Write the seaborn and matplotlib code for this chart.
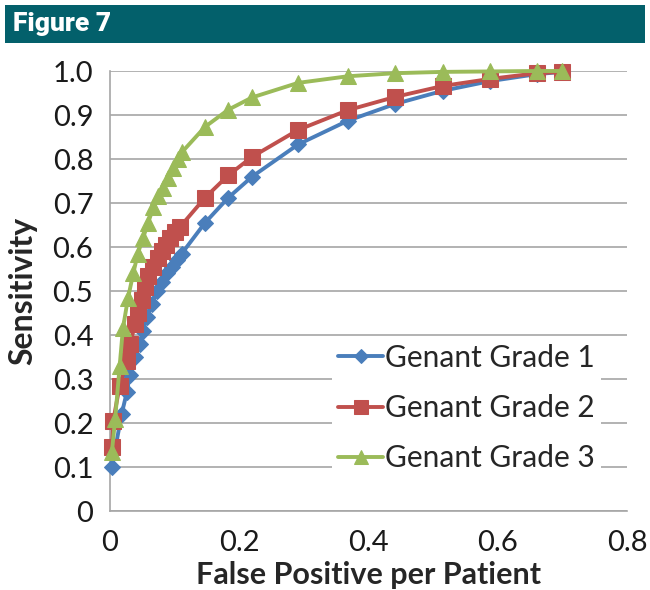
import matplotlib
matplotlib.use("Agg")
import matplotlib.pyplot as plt
import seaborn as sns
import pandas as pd
from matplotlib.patches import Rectangle

# ROC-like curves
grade1_x = [0.003, 0.018, 0.026, 0.031, 0.039, 0.046, 0.051, 0.057, 0.065, 0.073, 0.080,
            0.088, 0.096, 0.103, 0.111, 0.147, 0.183, 0.220, 0.291, 0.368, 0.441, 0.515,
            0.588, 0.661, 0.700]
grade1_y = [0.10, 0.22, 0.27, 0.31, 0.35, 0.38, 0.41, 0.44, 0.47, 0.50, 0.52,
            0.54, 0.555, 0.57, 0.585, 0.655, 0.712, 0.76, 0.833, 0.887, 0.925, 0.955,
            0.977, 0.993, 0.998]

grade2_x = [0.003, 0.005, 0.015, 0.026, 0.031, 0.039, 0.043, 0.050, 0.054, 0.059, 0.067,
            0.074, 0.080, 0.087, 0.093, 0.100, 0.108, 0.147, 0.183, 0.220, 0.291, 0.368,
            0.441, 0.515, 0.588, 0.661, 0.700]
grade2_y = [0.145, 0.205, 0.285, 0.34, 0.38, 0.425, 0.45, 0.48, 0.51, 0.535, 0.555,
            0.575, 0.59, 0.605, 0.62, 0.635, 0.645, 0.712, 0.763, 0.805, 0.866, 0.911,
            0.941, 0.966, 0.982, 0.995, 0.998]

grade3_x = [0.003, 0.008, 0.015, 0.020, 0.028, 0.036, 0.043, 0.051, 0.059, 0.067, 0.074,
            0.082, 0.090, 0.098, 0.105, 0.111, 0.147, 0.183, 0.220, 0.291, 0.368, 0.441,
            0.515, 0.588, 0.661, 0.700]
grade3_y = [0.135, 0.21, 0.33, 0.415, 0.485, 0.54, 0.585, 0.62, 0.655, 0.69, 0.715,
            0.735, 0.757, 0.78, 0.80, 0.815, 0.873, 0.912, 0.94, 0.973, 0.988, 0.995,
            0.998, 0.999, 1.0, 1.0]

labels = ["Genant Grade 1", "Genant Grade 2", "Genant Grade 3"]
colors = ["#4A7EBB", "#C0504D", "#9BBB59"]
markers = ["D", "s", "^"]
msizes = [8.5, 12, 12]

xticks = [0, 0.2, 0.4, 0.6, 0.8]
yticks = [0, 0.1, 0.2, 0.3, 0.4, 0.5, 0.6, 0.7, 0.8, 0.9, 1.0]

sns.set_style("white")
plt.rcParams["font.family"] = ["Lato", "DejaVu Sans"]

fig = plt.figure(figsize=(6.5, 5.9), dpi=100)

# header bar
fig.patches.append(Rectangle((5 / 650, 1 - 43 / 590), 640 / 650, 38 / 590,
                             transform=fig.transFigure, facecolor="#03606B",
                             edgecolor="none", zorder=0))
fig.text(13 / 650, 1 - 24 / 590, "Figure 7", color="white", fontsize=19,
         fontweight="heavy", va="center", ha="left",
         family=["Roboto", "Liberation Sans", "DejaVu Sans"], stretch="condensed")

ax = fig.add_axes([110 / 650, 1 - 511 / 590, 517 / 650, 440 / 590])

series = [(grade1_x, grade1_y), (grade2_x, grade2_y), (grade3_x, grade3_y)]
for (xs, ys), lab, c, m, ms in zip(series, labels, colors, markers, msizes):
    df = pd.DataFrame({"x": xs, "y": ys})
    sns.lineplot(data=df, x="x", y="y", ax=ax, color=c, marker=m, markersize=ms,
                 markeredgecolor=c, linewidth=2.8, sort=False, label=lab,
                 clip_on=False, zorder=3)

ax.set_xlim(0, 0.8)
ax.set_ylim(0, 1.0)
ax.set_xticks(xticks)
ax.set_yticks(yticks)
ax.set_xticklabels(["0", "0.2", "0.4", "0.6", "0.8"])
ax.set_yticklabels([f"{v:.1f}" if v > 0 else "0" for v in yticks])
ax.yaxis.grid(True, color="#A6A6A6", linewidth=1.2)
ax.xaxis.grid(False)
for s in ["top", "right"]:
    ax.spines[s].set_visible(False)
for s in ["left", "bottom"]:
    ax.spines[s].set_color("#A6A6A6")
    ax.spines[s].set_linewidth(1.2)
ax.tick_params(axis="both", which="major", labelsize=21, direction="out",
               length=9, width=1.2, color="#A6A6A6", labelcolor="#1a1a1a", pad=3)
ax.tick_params(axis="x", pad=5)
ax.set_xlabel("False Positive per Patient", fontsize=22, fontweight="bold", labelpad=3)
ax.set_ylabel("Sensitivity", fontsize=23, fontweight="bold", labelpad=11)

leg = ax.legend(loc="center", bbox_to_anchor=(0.69, 0.234), fontsize=21.5,
                frameon=True, framealpha=1, facecolor="white", edgecolor="none",
                handlelength=1.5, handletextpad=0.08, labelspacing=0.75,
                borderpad=0.2, fancybox=False, markerscale=0.8)
leg.set_zorder(5)

fig.savefig("out.png", dpi=100)
